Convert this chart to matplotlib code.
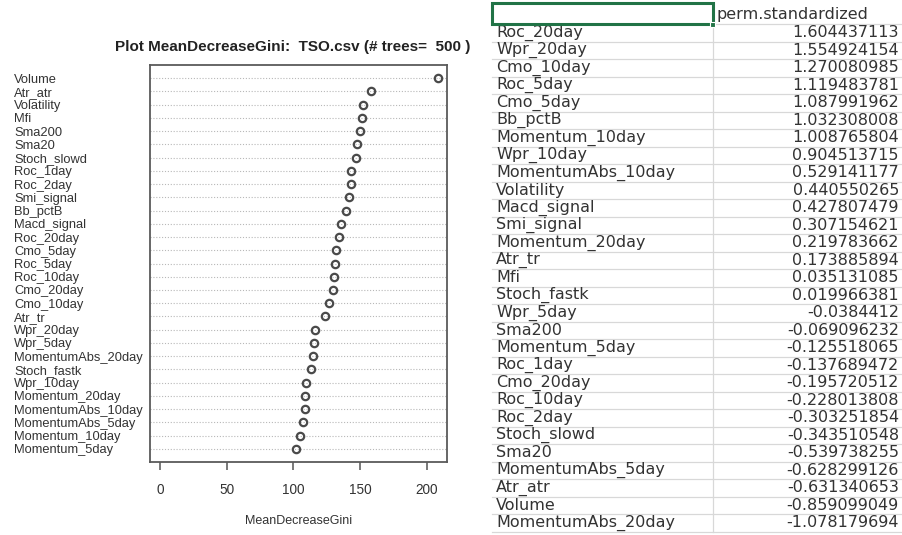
import matplotlib
matplotlib.use("Agg")
import matplotlib.pyplot as plt
from matplotlib.patches import Rectangle

# ---------------- data: dot chart (MeanDecreaseGini) ----------------
gini_vars = ["Volume", "Atr_atr", "Volatility", "Mfi", "Sma200", "Sma20",
             "Stoch_slowd", "Roc_1day", "Roc_2day", "Smi_signal", "Bb_pctB",
             "Macd_signal", "Roc_20day", "Cmo_5day", "Roc_5day", "Roc_10day",
             "Cmo_20day", "Cmo_10day", "Atr_tr", "Wpr_20day", "Wpr_5day",
             "MomentumAbs_20day", "Stoch_fastk", "Wpr_10day", "Momentum_20day",
             "MomentumAbs_10day", "MomentumAbs_5day", "Momentum_10day",
             "Momentum_5day"]
gini_vals = [208.7, 158.3, 152.3, 151.5, 149.7, 147.5, 146.7, 143.5, 143.2,
             142.0, 139.2, 136.0, 134.2, 132.0, 131.2, 130.5, 129.5, 126.5,
             124.0, 116.2, 115.5, 114.7, 113.2, 109.3, 109.1, 108.5, 107.5,
             105.0, 102.2]
x_ticks = [0, 50, 100, 150, 200]
title_text = "Plot MeanDecreaseGini:  TSO.csv (# trees=  500 )"
x_label = "MeanDecreaseGini"

# ---------------- data: table (perm.standardized) ----------------
table_header = "perm.standardized"
table_names = ["Roc_20day", "Wpr_20day", "Cmo_10day", "Roc_5day", "Cmo_5day",
               "Bb_pctB", "Momentum_10day", "Wpr_10day", "MomentumAbs_10day",
               "Volatility", "Macd_signal", "Smi_signal", "Momentum_20day",
               "Atr_tr", "Mfi", "Stoch_fastk", "Wpr_5day", "Sma200",
               "Momentum_5day", "Roc_1day", "Cmo_20day", "Roc_10day",
               "Roc_2day", "Stoch_slowd", "Sma20", "MomentumAbs_5day",
               "Atr_atr", "Volume", "MomentumAbs_20day"]
table_vals = ["1.604437113", "1.554924154", "1.270080985", "1.119483781",
              "1.087991962", "1.032308008", "1.008765804", "0.904513715",
              "0.529141177", "0.440550265", "0.427807479", "0.307154621",
              "0.219783662", "0.173885894", "0.035131085", "0.019966381",
              "-0.0384412", "-0.069096232", "-0.125518065", "-0.137689472",
              "-0.195720512", "-0.228013808", "-0.303251854", "-0.343510548",
              "-0.539738255", "-0.628299126", "-0.631340653", "-0.859099049",
              "-1.078179694"]

W, H = 903, 535
fig = plt.figure(figsize=(W / 100, H / 100), dpi=100)
fig.patch.set_facecolor("white")

sans = ["Liberation Sans", "DejaVu Sans"]

# ---------------- left: dot chart ----------------
L, R, T, B = 150, 447, 65, 462
ax = fig.add_axes([L / W, 1 - B / H, (R - L) / W, (B - T) / H])
n = len(gini_vars)
ypos = list(range(n, 0, -1))
ax.set_ylim(0, n + 1)
ax.set_xlim(-7.5, 215.3)
ax.grid(axis="y", color="#b8b8b8", linestyle=(0, (1, 1.6)), linewidth=0.8)
ax.set_axisbelow(True)
ax.plot(gini_vals, ypos, linestyle="none", marker="o", mfc="none",
        mec="#4a4a4a", ms=5.3, mew=1.6, zorder=3)
ax.set_yticks(ypos)
ax.set_yticklabels(gini_vars, fontfamily=sans, fontsize=9.3, color="#333333")
for lab in ax.get_yticklabels():
    lab.set_ha("left")
ax.tick_params(axis="y", length=0, pad=(L - 14) * 0.72)
ax.set_xticks(x_ticks)
ax.set_xticklabels([str(v) for v in x_ticks], fontfamily=sans, fontsize=9.8,
                   color="#333333")
ax.tick_params(axis="x", length=6, width=1.1, color="#555555", pad=9)
for s in ax.spines.values():
    s.set_color("#5a5a5a")
    s.set_linewidth(1.3)
ax.set_xlabel(x_label, fontfamily=sans, fontsize=9, color="#333333")
ax.xaxis.set_label_coords(0.5, -(521 - B) / (B - T))
ax.xaxis.label.set_va("center")

fig.text(293 / W, 1 - 47 / H, title_text, ha="center", va="center",
         fontfamily=sans, fontweight="bold", fontsize=11, color="#222222")

# ---------------- right: spreadsheet table ----------------
tx = fig.add_axes([0, 0, 1, 1], facecolor="none")
tx.set_xlim(0, W)
tx.set_ylim(H, 0)
tx.axis("off")
x0, xmid, x1 = 492, 713, 903
top, head_bot, rh = 3, 24, 17.5
nrows = len(table_names)
grid_c = "#d8d8d8"
fs_tab = 11.5
for i in range(nrows + 1):
    yy = head_bot + i * rh
    tx.plot([x0, x1], [yy, yy], color=grid_c, lw=0.9)
tx.plot([xmid, xmid], [top, head_bot + nrows * rh], color=grid_c, lw=0.9)
tx.text(xmid + 4, (top + head_bot) / 2 + 1, table_header, ha="left",
        va="center", fontsize=fs_tab, color="#333333", fontfamily="DejaVu Sans")
for i, (nm, v) in enumerate(zip(table_names, table_vals)):
    yc = head_bot + (i + 0.5) * rh
    tx.text(x0 + 4, yc, nm, ha="left", va="center", fontsize=fs_tab,
            color="#333333", fontfamily="DejaVu Sans")
    tx.text(x1 - 4, yc, v, ha="right", va="center", fontsize=fs_tab,
            color="#333333", fontfamily="DejaVu Sans")
tx.add_patch(Rectangle((x0, top), xmid - x0, head_bot - top, fill=False,
                       edgecolor="#217346", lw=2.2, zorder=5))
tx.add_patch(Rectangle((xmid - 2.5, head_bot - 2.5), 5, 5, facecolor="#217346",
                       edgecolor="white", lw=0.8, zorder=6))

fig.savefig("out.png", dpi=100)
